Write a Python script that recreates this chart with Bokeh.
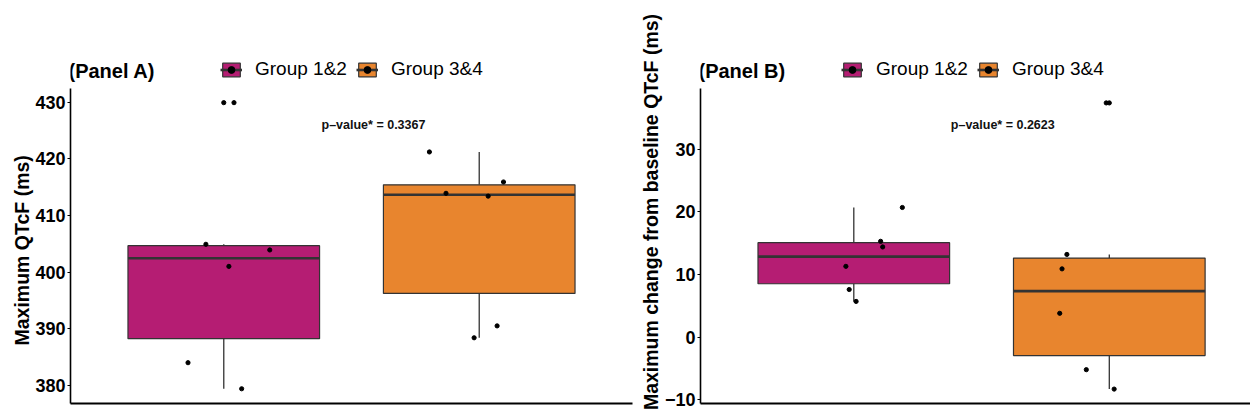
import numpy as np
from bokeh.plotting import figure
from bokeh.models import (Range1d, FixedTicker, Label, Legend, LegendItem,
                          ColumnDataSource, Title)
from bokeh.layouts import row
from bokeh.embed import file_html
from bokeh.resources import INLINE

FONT = "Liberation Sans"

groups = ["Group 1&2", "Group 3&4"]
group_pos = [1, 2]
colors = ["#B51D73", "#E8852E"]

# Panel A: maximum QTcF (ms)
a_g1 = [429.9, 404.9, 403.9, 401.0, 384.0, 379.4]
a_g1_jit = [0.04, -0.07, 0.18, 0.02, -0.14, 0.07]
a_g2 = [421.2, 415.9, 413.9, 413.4, 390.5, 388.4]
a_g2_jit = [-0.195, 0.095, -0.13, 0.035, 0.07, -0.02]
a_ticks = [380, 390, 400, 410, 420, 430]
a_pvalue = "p\u2013value* = 0.3367"

# Panel B: maximum change from baseline QTcF (ms)
b_g1 = [20.7, 15.3, 14.4, 11.3, 7.6, 5.7]
b_g1_jit = [0.19, 0.105, 0.113, -0.031, -0.018, 0.009]
b_g2 = [37.4, 13.2, 10.9, 3.8, -5.2, -8.3]
b_g2_jit = [-0.012, -0.166, -0.185, -0.194, -0.09, 0.019]
b_ticks = [-10, 0, 10, 20, 30]
b_pvalue = "p\u2013value* = 0.2623"

H = 419
TOP = 20          # frame top (px from figure top)
AXIS_TOP = 88     # where the y axis line starts
BOTTOM = 16
FH = H - TOP - BOTTOM


def box_stats(vals):
    v = np.asarray(vals, dtype=float)
    q1, med, q3 = np.percentile(v, [25, 50, 75])
    iqr = q3 - q1
    lo_f, hi_f = q1 - 1.5 * iqr, q3 + 1.5 * iqr
    inside = v[(v >= lo_f) & (v <= hi_f)]
    out = v[(v < lo_f) | (v > hi_f)]
    return q1, med, q3, inside.min(), inside.max(), out


def make_panel(title, ylabel, series, jits, ylo, yhi, yticks, ptext, pxy,
               width, bl, br, xend, legend_x, ylab_align, ylab_offset):
    upp = (yhi - ylo) / (FH - (AXIS_TOP - TOP))     # data units per pixel
    ytop = yhi + (AXIS_TOP - TOP) * upp
    p = figure(width=width, height=H, x_range=Range1d(0.4, xend),
               y_range=Range1d(ylo, ytop), output_backend="svg", toolbar_location=None,
               min_border_left=bl, min_border_right=br, min_border_top=TOP,
               min_border_bottom=BOTTOM)
    p.xgrid.visible = False
    p.ygrid.visible = False
    p.outline_line_color = None
    p.background_fill_color = "white"
    p.border_fill_color = "white"

    items = []
    for pos, vals, jit, col, name in zip(group_pos, series, jits, colors, groups):
        q1, med, q3, wlo, whi, outl = box_stats(vals)
        src = ColumnDataSource(dict(x=[pos], q1=[q1], q3=[q3], med=[med],
                                    wlo=[wlo], whi=[whi],
                                    x0=[pos - 0.375], x1=[pos + 0.375]))
        p.segment(x0="x", y0="q3", x1="x", y1="whi", source=src,
                  line_color="#333333", line_width=1.3)
        p.segment(x0="x", y0="q1", x1="x", y1="wlo", source=src,
                  line_color="#333333", line_width=1.3)
        box = p.vbar(x="x", width=0.75, top="q3", bottom="q1", source=src,
                     fill_color=col, line_color="#333333", line_width=1.2)
        medr = p.segment(x0="x0", y0="med", x1="x1", y1="med", source=src,
                         line_color="#333333", line_width=2.6)
        if len(outl):
            p.scatter(x=[pos] * len(outl), y=list(outl), size=4.2, color="black")
        pts = p.scatter(x=[pos + j for j in jit], y=vals, size=4.2, color="black")
        items.append(LegendItem(label=name, renderers=[box, medr, pts]))

    legend = Legend(items=items, orientation="horizontal", location=(legend_x, 323),
                    glyph_width=22, glyph_height=17, label_text_font_size="19px",
                    label_text_font=FONT, label_text_color="black",
                    label_standoff=13, spacing=9, padding=0,
                    margin=0, border_line_color=None, background_fill_alpha=0,
                    label_height=14)
    p.add_layout(legend, "center")

    # y axis
    p.yaxis.ticker = FixedTicker(ticks=yticks)
    p.yaxis.bounds = (ylo, yhi)
    p.yaxis.major_label_text_font = FONT
    p.yaxis.major_label_text_font_style = "bold"
    p.yaxis.major_label_text_font_size = "18px"
    p.yaxis.major_label_text_color = "black"
    p.yaxis.major_label_standoff = 2
    p.yaxis.major_tick_out = 3
    p.yaxis.major_tick_in = 0
    p.yaxis.minor_tick_line_color = None
    p.yaxis.axis_line_width = 1.6
    p.yaxis.axis_line_color = "black"
    p.yaxis.major_tick_line_color = "black"

    # y axis title (as a side title so it can be shifted along the axis)
    p.add_layout(Title(text=ylabel, align=ylab_align, offset=ylab_offset, standoff=0,
                       text_font=FONT, text_font_style="bold",
                       text_font_size="19.5px", text_color="black"), "left")

    # x axis: line only
    p.xaxis.ticker = FixedTicker(ticks=[])
    p.xaxis.major_label_text_font_size = "0px"
    p.xaxis.major_tick_line_color = None
    p.xaxis.minor_tick_line_color = None
    p.xaxis.major_label_standoff = 0
    p.xaxis.axis_line_width = 2
    p.xaxis.axis_line_color = "black"

    p.add_layout(Label(x=0.4, y=yhi + 18 * upp, text=title, x_offset=-2,
                       text_font=FONT, text_font_style="bold", text_font_size="20px",
                       text_baseline="middle", text_align="left", text_color="black"))
    p.add_layout(Label(x=pxy[0], y=pxy[1], text=ptext, text_font=FONT,
                       text_font_style="bold", text_font_size="12.5px",
                       text_baseline="middle", text_align="center", text_color="#111111"))
    return p


pA = make_panel("(Panel A)", "Maximum QTcF (ms)", [a_g1, a_g2], [a_g1_jit, a_g2_jit],
                376.8, 432.4, a_ticks, a_pvalue, (1.586, 425.9),
                634, 70, 2, 2.6, 150, "left", 58)
pB = make_panel("(Panel B)", "Maximum change from baseline QTcF (ms)", [b_g1, b_g2],
                [b_g1_jit, b_g2_jit], -10.6, 39.7, b_ticks, b_pvalue, (1.583, 33.8),
                616, 66, 0, 0.4 + 550 / 255.5, 141, "center", 0)

layout = row(pA, pB, spacing=0)
open("out.html", "w").write(file_html(layout, INLINE))
